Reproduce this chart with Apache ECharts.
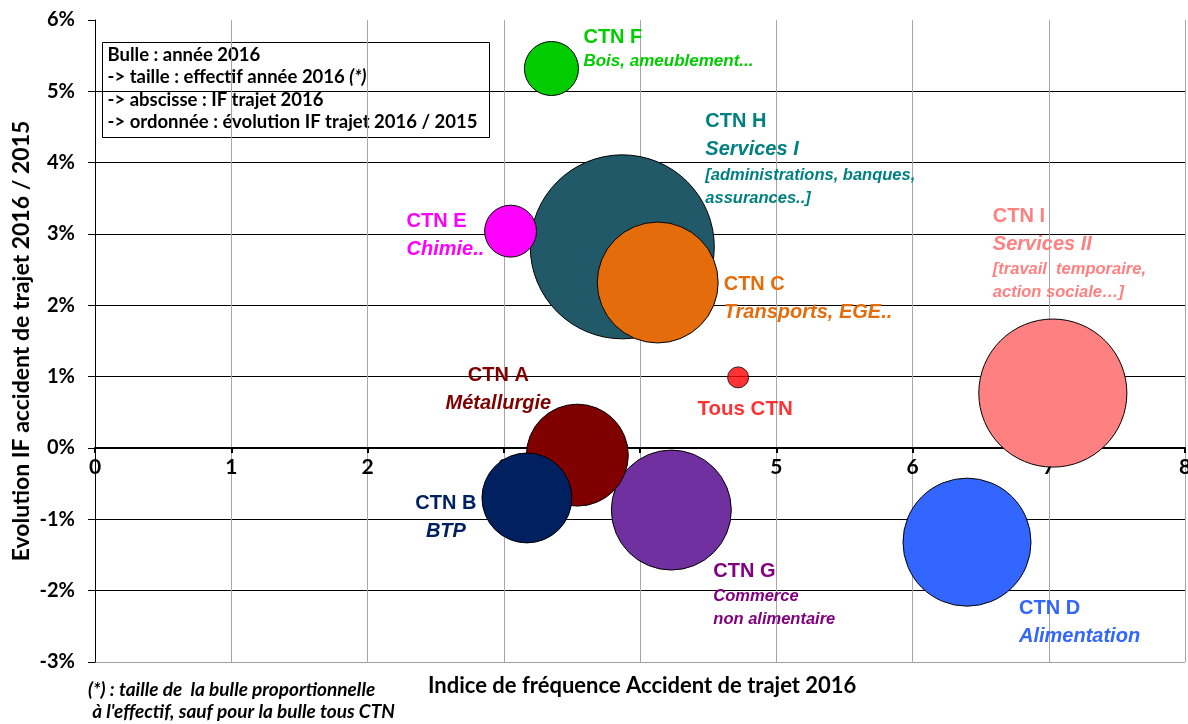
<!DOCTYPE html>
<html>
<head>
<meta charset="utf-8">
<script src="https://cdn.jsdelivr.net/npm/echarts@6/dist/echarts.min.js"></script>
<style>
  html, body { margin: 0; padding: 0; background: #fff; }
  #chart { width: 1188px; height: 724px; }
</style>
</head>
<body>
<div id="chart"></div>
<script>
// donnees
var ctn = ['CTN A', 'CTN B', 'CTN C', 'CTN D', 'CTN E', 'CTN F', 'CTN G', 'CTN H', 'CTN I'];
var ifTrajet2016 = [3.54, 3.17, 4.13, 6.40, 3.05, 3.35, 4.23, 3.87, 7.03];
var evolution = [-0.10, -0.70, 2.32, -1.32, 3.04, 5.32, -0.87, 2.82, 0.77]; // en %
var effectif = [1350, 1050, 1900, 2130, 350, 380, 1870, 4400, 2850]; // milliers (estime)
var tousCtn = [4.72, 0.99];
var xTicks = [0, 8, 1];
var yTicks = [-3, 6, 1];

// textes des etiquettes
var libelles = {
  'CTN A': [['s', 'Métallurgie']],
  'CTN B': [['s', 'BTP']],
  'CTN C': [['s', 'Transports, EGE..']],
  'CTN D': [['s', 'Alimentation']],
  'CTN E': [['s', 'Chimie..']],
  'CTN F': [['f', 'Bois, ameublement...']],
  'CTN G': [['n', 'Commerce'], ['n', 'non alimentaire']],
  'CTN H': [['s', 'Services I'], ['n', '[administrations, banques,'], ['n', 'assurances..]']],
  'CTN I': [['s', 'Services II'], ['n', '[travail  temporaire,'], ['n', 'action sociale…]']]
};

// couleurs (bulle, texte) et placement des etiquettes
var couleurs = {
  'CTN A': ['#800000', '#800000'],
  'CTN B': ['#002060', '#002060'],
  'CTN C': ['#E46C0A', '#E46C0A'],
  'CTN D': ['#3366FF', '#3366FF'],
  'CTN E': ['#FF00FF', '#FF00FF'],
  'CTN F': ['#00CC00', '#00CC00'],
  'CTN G': ['#7030A0', '#800080'],
  'CTN H': ['#215968', '#008080'],
  'CTN I': ['#FF8080', '#FF8080']
};
var place = {
  'CTN A': ['center', -79, -94],
  'CTN B': ['center', -81, -8],
  'CTN C': ['left', 66, -12],
  'CTN D': ['left', 52, 52],
  'CTN E': ['left', -104, -24],
  'CTN F': ['left', 32, -45],
  'CTN G': ['left', 42, 47],
  'CTN H': ['left', 83, -139],
  'CTN I': ['left', -60, -191]
};

var sans = "'Liberation Sans', Arial, sans-serif";
var calibri = "Lato, 'Open Sans', sans-serif";

function richFor(al) {
  return {
    t: { fontFamily: sans, fontWeight: 'bold', fontSize: 20, lineHeight: 28, align: al },
    s: { fontFamily: sans, fontWeight: 'bold', fontStyle: 'italic', fontSize: 20, lineHeight: 28, align: al },
    n: { fontFamily: sans, fontWeight: 'bold', fontStyle: 'italic', fontSize: 16.5, lineHeight: 23, align: al },
    f: { fontFamily: sans, fontWeight: 'bold', fontStyle: 'italic', fontSize: 17, lineHeight: 20, align: al }
  };
}

var maxEff = Math.max.apply(null, effectif);
var ordre = ctn.map(function (c, i) { return i; }).sort(function (a, b) { return effectif[b] - effectif[a]; });

var bulles = ordre.map(function (i) {
  var nom = ctn[i], p = place[nom];
  var txt = ['{t|' + nom + '}'].concat(libelles[nom].map(function (l) { return '{' + l[0] + '|' + l[1] + '}'; })).join('\n');
  return {
    name: nom,
    value: [ifTrajet2016[i], evolution[i], effectif[i]],
    itemStyle: { color: couleurs[nom][0] },
    label: {
      show: true,
      position: 'inside',
      align: p[0],
      verticalAlign: 'top',
      offset: [p[1], p[2]],
      color: couleurs[nom][1],
      formatter: txt,
      rich: richFor(p[0])
    }
  };
});

var gridTop = 20, gridBottom = 62, H = 724;
var gridH = H - gridTop - gridBottom;
// l'axe des abscisses passe par 0 %
var xOffset = -gridH * (0 - yTicks[0]) / (yTicks[1] - yTicks[0]);

var chart = echarts.init(document.getElementById('chart'));

var yGridColors = ['#A0A0A0', '#000', '#000', '#000', '#000', '#000', '#000', '#000', '#000', 'rgba(0,0,0,0)'];

function legendText(y, txt) {
  return {
    type: 'text', x: 5, y: y,
    style: {
      text: txt, fill: '#000',
      rich: {
        a: { fontFamily: 'Lato', fontWeight: 'bold', fontSize: 18.5 },
        b: { fontFamily: 'Lato', fontWeight: 'bold', fontStyle: 'italic', fontSize: 18.5 }
      }
    }
  };
}

chart.setOption({
  animation: false,
  grid: { left: 95, right: 3, top: gridTop, bottom: gridBottom, containLabel: false, outerBoundsMode: 'none' },
  xAxis: {
    type: 'value', min: xTicks[0], max: xTicks[1], interval: xTicks[2],
    position: 'bottom',
    offset: xOffset,
    axisLine: { onZero: false, lineStyle: { color: '#000', width: 2 } },
    axisTick: { show: true, inside: false, length: 5, lineStyle: { color: '#000', width: 2 } },
    axisLabel: { color: '#000', fontFamily: calibri, fontWeight: 'bold', fontSize: 21, margin: 9 },
    splitLine: { show: true, lineStyle: { color: '#A6A6A6', width: 1 } }
  },
  yAxis: {
    type: 'value', min: yTicks[0], max: yTicks[1], interval: yTicks[2],
    axisLine: { show: true, onZero: false, lineStyle: { color: '#000', width: 1 } },
    axisTick: { show: true, length: 7, lineStyle: { color: '#000' } },
    axisLabel: { color: '#000', fontFamily: calibri, fontWeight: 'bold', fontSize: 20, margin: 20, formatter: '{value}%' },
    splitLine: { show: true, lineStyle: { color: yGridColors, width: 1 } },
    name: 'Evolution IF accident de trajet 2016 / 2015',
    nameLocation: 'middle',
    nameGap: 62,
    nameMoveOverlap: false,
    nameTextStyle: { color: '#000', fontFamily: calibri, fontWeight: 'bold', fontSize: 23 }
  },
  series: [
    {
      type: 'scatter',
      silent: true,
      data: bulles,
      symbolSize: function (v) { return 184 * Math.sqrt(v[2] / maxEff); },
      itemStyle: { borderColor: '#000', borderWidth: 1, opacity: 1 }
    },
    {
      type: 'scatter',
      silent: true,
      data: [{ name: 'Tous CTN', value: tousCtn }],
      symbolSize: 21,
      itemStyle: { color: '#FF0000', borderColor: '#000', borderWidth: 1 },
      label: {
        show: true, position: 'bottom', distance: 10,
        formatter: 'Tous CTN', color: '#FF0000',
        fontFamily: sans, fontWeight: 'bold', fontSize: 20.5, offset: [7, 0]
      }
    }
  ],
  graphic: [
    {
      type: 'group', left: 102, top: 42,
      children: [
        { type: 'rect', shape: { x: 0, y: 0, width: 387, height: 95 }, style: { fill: '#fff', stroke: '#000', lineWidth: 1 } },
        legendText(3, '{a|Bulle : année 2016}'),
        legendText(25, '{a|-> taille : effectif année 2016 }{b|(*)}'),
        legendText(48, '{a|-> abscisse : IF trajet 2016}'),
        legendText(70, '{a|-> ordonnée : évolution IF trajet 2016 / 2015}')
      ]
    },
    { type: 'text', left: 88, top: 679, style: { text: "(*) : taille de  la bulle proportionnelle\n à l'effectif, sauf pour la bulle tous CTN", fontFamily: 'Lato', fontWeight: 'bold', fontStyle: 'italic', fontSize: 19, fill: '#000', lineHeight: 22 } },
    { type: 'text', left: 428, top: 675, style: { text: 'Indice de fréquence Accident de trajet 2016', fontFamily: 'Lato', fontWeight: 'bold', fontSize: 22, fill: '#000' } }
  ]
});
</script>
</body>
</html>
